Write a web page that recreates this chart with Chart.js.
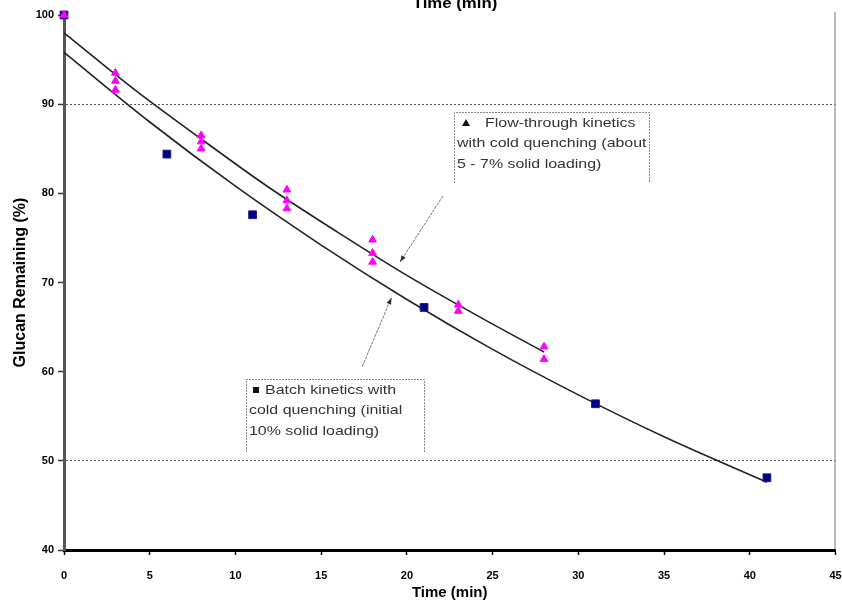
<!DOCTYPE html>
<html>
<head>
<meta charset="utf-8">
<script src="https://cdn.jsdelivr.net/npm/chart.js@4.4.1/dist/chart.umd.min.js"></script>
<style>
  html, body { margin: 0; padding: 0; background: #fff; }
  #wrap { width: 842px; height: 604px; position: relative; }
</style>
</head>
<body>
<div id="wrap"><canvas id="c" width="842" height="604"></canvas></div>
<script>
// ---- data ----
const xTicks = [0, 5, 10, 15, 20, 25, 30, 35, 40, 45];
const yTicks = [40, 50, 60, 70, 80, 90, 100];

const flowX = [0, 3, 3, 3, 8, 8, 8, 13, 13, 13, 18, 18, 18, 23, 23, 28, 28];
const flowY = [100, 93.5, 92.6, 91.6, 86.5, 85.8, 85.0, 80.4, 79.2, 78.3, 74.8, 73.3, 72.3, 67.5, 66.8, 62.8, 61.4];

const batchX = [0, 6, 11, 21, 31, 41];
const batchY = [100, 84.4, 77.6, 67.2, 56.4, 48.1];

// fitted curves as traced in the picture
const flowFitX = [0, 4, 8, 12, 16, 20, 24, 28];
const flowFitY = [98.0, 91.8, 86.1, 80.6, 75.6, 70.8, 66.4, 62.2];
const batchFitX = [0, 5, 10, 15, 20, 25, 30, 35, 41];
const batchFitY = [95.8, 88.0, 80.8, 74.2, 68.1, 62.5, 57.4, 52.7, 47.6];

const flowLabel = ["Flow-through kinetics", "with cold quenching (about", "5 - 7% solid loading)"];
const batchLabel = ["Batch kinetics with", "cold quenching (initial", "10% solid loading)"];

const toPts = (xs, ys) => xs.map((x, i) => ({ x: x, y: ys[i] }));

const FONT = "'Liberation Sans', Arial, sans-serif";

const extras = {
  id: 'extras',
  afterDraw(chart) {
    const ctx = chart.ctx;
    const ca = chart.chartArea;
    const xs = chart.scales.x, ys = chart.scales.y;
    ctx.save();
    // right axis line
    ctx.strokeStyle = '#777';
    ctx.lineWidth = 1;
    ctx.beginPath();
    ctx.moveTo(ca.right - 0.5, ca.top - 3);
    ctx.lineTo(ca.right - 0.5, ca.bottom);
    ctx.stroke();

    // top clipped title
    ctx.fillStyle = '#000';
    ctx.font = "bold 15px " + FONT;
    ctx.textAlign = 'center';
    ctx.textBaseline = 'middle';
    ctx.save();
    ctx.translate(455, 4);
    ctx.scale(1.12, 1);
    ctx.fillText('Time (min)', 0, 0);
    ctx.restore();

    // annotation boxes
    function box(l, t, r, b, lines, marker) {
      ctx.strokeStyle = '#888';
      ctx.lineWidth = 1;
      ctx.setLineDash([2, 1]);
      ctx.beginPath();
      ctx.moveTo(l + 0.5, b); ctx.lineTo(l + 0.5, t + 0.5);
      ctx.lineTo(r + 0.5, t + 0.5); ctx.lineTo(r + 0.5, b);
      ctx.stroke();
      ctx.setLineDash([]);
      ctx.font = "13.5px " + FONT;
      ctx.textAlign = 'left';
      ctx.textBaseline = 'middle';
      lines.forEach((ln, i) => {
        const y = t + 11 + i * 20.5;
        let x = l + 3;
        if (i === 0) {
          ctx.fillStyle = '#111';
          if (marker === 'tri') {
            ctx.beginPath();
            ctx.moveTo(x + 9, y - 4); ctx.lineTo(x + 13, y + 3); ctx.lineTo(x + 5, y + 3);
            ctx.closePath(); ctx.fill();
            x = l + 31;
          } else {
            ctx.fillRect(x + 4, y - 3, 6, 6);
            x = l + 19;
          }
        }
        ctx.fillStyle = '#333';
        ctx.save();
        ctx.translate(x, y);
        ctx.scale(1.18, 1);
        ctx.fillText(ln, 0, 0);
        ctx.restore();
      });
    }
    box(454, 112, 649, 183, flowLabel, 'tri');
    box(246, 379, 424, 452, batchLabel, 'sq');

    // arrows (in data units)
    function arrow(x0, y0, x1, y1) {
      const px0 = xs.getPixelForValue(x0), py0 = ys.getPixelForValue(y0);
      const px1 = xs.getPixelForValue(x1), py1 = ys.getPixelForValue(y1);
      ctx.strokeStyle = '#777';
      ctx.lineWidth = 1;
      ctx.setLineDash([3, 1]);
      ctx.beginPath(); ctx.moveTo(px0, py0); ctx.lineTo(px1, py1); ctx.stroke();
      ctx.setLineDash([]);
      const a = Math.atan2(py1 - py0, px1 - px0);
      ctx.fillStyle = '#333';
      ctx.beginPath();
      ctx.moveTo(px1, py1);
      ctx.lineTo(px1 - 7 * Math.cos(a - 0.35), py1 - 7 * Math.sin(a - 0.35));
      ctx.lineTo(px1 - 7 * Math.cos(a + 0.35), py1 - 7 * Math.sin(a + 0.35));
      ctx.closePath(); ctx.fill();
    }
    arrow(22.1, 79.7, 19.6, 72.3);
    arrow(17.4, 60.6, 19.1, 68.3);
    ctx.restore();
  }
};

new Chart(document.getElementById('c'), {
  type: 'scatter',
  data: {
    datasets: [
      {
        type: 'line', data: toPts(flowFitX, flowFitY), borderColor: '#222', borderWidth: 1.6,
        pointRadius: 0, fill: false, cubicInterpolationMode: 'monotone', order: 3, clip: false
      },
      {
        type: 'line', data: toPts(batchFitX, batchFitY), borderColor: '#222', borderWidth: 1.6,
        pointRadius: 0, fill: false, cubicInterpolationMode: 'monotone', order: 3, clip: false
      },
      {
        data: toPts(batchX, batchY), pointStyle: 'rect', pointRadius: 5.5, pointHoverRadius: 5.5,
        backgroundColor: '#000080', borderColor: '#1a1a9a', borderWidth: 1, order: 2, clip: false
      },
      {
        data: toPts(flowX, flowY), pointStyle: 'triangle', pointRadius: 4.5, pointHoverRadius: 4.5,
        backgroundColor: '#ff00ff', borderColor: '#ff00ff', borderWidth: 1, order: 1, clip: false
      }
    ]
  },
  options: {
    responsive: false,
    animation: false,
    events: [],
    layout: { padding: { top: 15, right: 6, left: 0, bottom: 0 } },
    plugins: { legend: { display: false }, tooltip: { enabled: false }, title: { display: false } },
    scales: {
      x: {
        type: 'linear', min: 0, max: 45,
        afterBuildTicks: s => { s.ticks = xTicks.map(v => ({ value: v })); },
        afterFit: s => { s.height = 54; s.paddingLeft = 0; s.paddingRight = 0; },
        border: { display: true, color: '#000', width: 3 },
        grid: { drawOnChartArea: false, drawTicks: true, tickLength: 5, tickColor: '#000', tickWidth: 1.5 },
        ticks: { color: '#000', font: { family: FONT, size: 11, weight: 'bold' }, padding: 14, maxRotation: 0 },
        title: { display: true, text: 'Time (min)', color: '#000', font: { family: FONT, size: 15, weight: 'bold' }, padding: { top: 0, bottom: 2 } }
      },
      y: {
        type: 'linear', min: 40, max: 100,
        afterBuildTicks: s => { s.ticks = yTicks.map(v => ({ value: v })); },
        afterFit: s => { s.width = 64; s.paddingTop = 0; s.paddingBottom = 0; },
        border: { display: true, color: '#555', width: 3, dash: [2, 2] },
        grid: {
          drawTicks: true, tickLength: 6, tickColor: '#333', tickWidth: 1.5, tickBorderDash: [],
          color: c => (c.tick && (c.tick.value === 50 || c.tick.value === 90)) ? '#555' : 'rgba(0,0,0,0)',
          lineWidth: 1
        },
        ticks: { color: '#000', font: { family: FONT, size: 11, weight: 'bold' }, padding: 4 },
        title: { display: true, text: 'Glucan Remaining (%)', color: '#000', font: { family: FONT, size: 16, weight: 'bold' }, padding: { top: 11, bottom: 0 } }
      }
    }
  },
  plugins: [extras]
});
</script>
</body>
</html>
